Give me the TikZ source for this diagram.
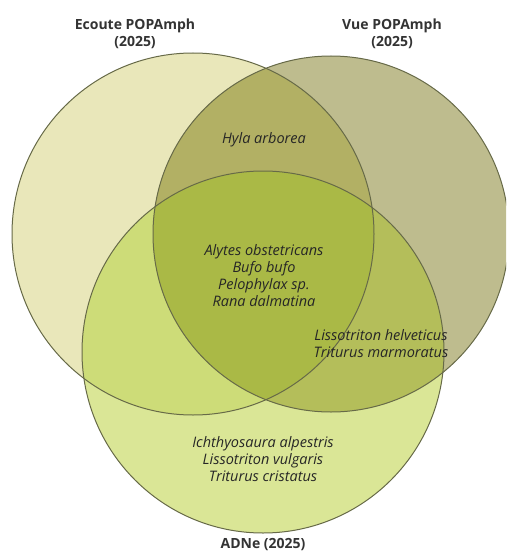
\documentclass[tikz,border=0pt]{standalone}
\usepackage{fontspec}
\setmainfont{Open Sans}
\definecolor{ecoute}{HTML}{E9E7BA}
\definecolor{vue}{HTML}{BEBC8E}
\definecolor{adne}{HTML}{DAE696}
\definecolor{ecvue}{HTML}{B2B064}
\definecolor{ecadne}{HTML}{CDDC78}
\definecolor{vueadne}{HTML}{B4BE5A}
\definecolor{allthree}{HTML}{AAB946}
\definecolor{rim}{HTML}{676A48}
\begin{document}
\begin{tikzpicture}[
    x=1pt, y=-1pt,
    setname/.style={
        font=\bfseries\fontsize{14}{17}\selectfont,
        text=black!80,
        align=center
    },
    species/.style={
        font=\itshape\fontsize{14.5}{17}\selectfont,
        text=black!85,
        align=center
    },
    rimline/.style={
        draw=rim,
        line width=1pt
    }
]
    \useasboundingbox (0,0) rectangle (506,559);
    \clip (0,0) rectangle (506,559);

    % cercles de base
    \def\ecoutecircle{(193,234) circle (181)}
    \def\vuecircle{(331,234) circle (178)}
    \def\adnecircle{(263,352) circle (181)}

    \fill[ecoute] \ecoutecircle;
    \fill[vue] \vuecircle;
    \fill[adne] \adnecircle;

    % intersections deux a deux
    \begin{scope}
        \clip \ecoutecircle;
        \fill[ecvue] \vuecircle;
        \fill[ecadne] \adnecircle;
    \end{scope}
    \begin{scope}
        \clip \vuecircle;
        \fill[vueadne] \adnecircle;
    \end{scope}

    % intersection des trois
    \begin{scope}
        \clip \ecoutecircle;
        \clip \vuecircle;
        \fill[allthree] \adnecircle;
    \end{scope}

    % contours
    \draw[rimline] \ecoutecircle;
    \draw[rimline] \vuecircle;
    \draw[rimline] \adnecircle;

    % noms des methodes
    \node[setname] (ecoute) at (135,34) {Ecoute POPAmph\\(2025)};
    \node[setname] (vue) at (392,34) {Vue POPAmph\\(2025)};
    \node[setname] (adne) at (263,545) {ADNe (2025)};

    % especes par zone
    \node[species] (hyla) at (264,140) {Hyla arborea};
    \node[species] (core) at (264,276) {
        Alytes obstetricans\\
        Bufo bufo\\
        Pelophylax sp.\\
        Rana dalmatina
    };
    \node[species] (tritons) at (381,344) {
        Lissotriton helveticus\\
        Triturus marmoratus
    };
    \node[species] (adnespecies) at (263,459) {
        Ichthyosaura alpestris\\
        Lissotriton vulgaris\\
        Triturus cristatus
    };

\end{tikzpicture}
\end{document}
